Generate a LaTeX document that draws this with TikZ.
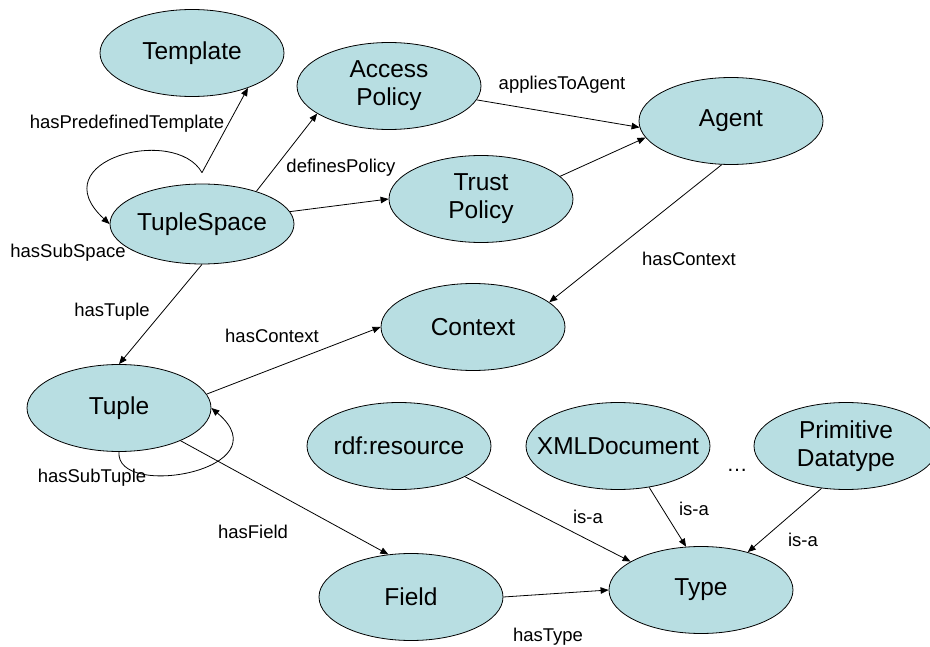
\documentclass[tikz,border=0pt]{standalone}
\usepackage{fontspec}
\setmainfont{Liberation Sans}
\usetikzlibrary{shapes.geometric,arrows.meta}
\definecolor{nodefill}{RGB}{184,222,226}
\begin{document}
\begin{tikzpicture}[x=1pt,y=-1pt,
  cls/.style={ellipse,draw=black,line width=0.8pt,fill=nodefill,inner sep=0pt,
    inner xsep=-22pt,
    minimum width=184pt,minimum height=87pt,align=center,
    font=\fontsize{24.5}{28}\selectfont},
  lbl/.style={inner sep=0pt,font=\fontsize{18.5}{21}\selectfont},
  arr/.style={line width=0.8pt,-{Triangle[length=8pt,width=6.5pt]}}]
\useasboundingbox (0,0) rectangle (930,647);
% nodes
\node[cls] (template) at (192,53) {Template};
\node[cls] (access) at (389,86) {Access\\Policy};
\node[cls] (trust) at (481,199) {Trust\\Policy};
\node[cls] (agent) at (731,121) {Agent};
\node[cls,minimum height=80pt] (tuplespace) at (202,224) {TupleSpace};
\node[cls] (context) at (473,327) {Context};
\node[cls] (tuple) at (119,408) {Tuple};
\node[cls] (rdf) at (399,446) {rdf:resource};
\node[cls] (xml) at (618,446) {XMLDocument};
\node[cls] (prim) at (846,446) {Primitive\\Datatype};
\node[cls] (field) at (411,597) {Field};
\node[cls] (type) at (701,590) {Type};
% labels
\node[lbl] (lpre) at (127,124) {hasPredefinedTemplate};
\node[lbl] (lsub) at (68,253) {hasSubSpace};
\node[lbl] (ldef) at (341,168) {definesPolicy};
\node[lbl] (lapp) at (562,85) {appliesToAgent};
\node[lbl] (lctxa) at (689,259) {hasContext};
\node[lbl] (ltup) at (112,312) {hasTuple};
\node[lbl] (lctxt) at (272,336) {hasContext};
\node[lbl] (lsubt) at (92,478) {hasSubTuple};
\node[lbl] (lfld) at (253,532) {hasField};
\node[lbl] (ltyp) at (548,637) {hasType};
\node[lbl] (lisa1) at (588,517) {is-a};
\node[lbl] (lisa2) at (694,509) {is-a};
\node[lbl] (lisa3) at (803,540) {is-a};
\node[lbl,font=\fontsize{21}{21}\selectfont] (dots) at (737,470) {\dots};
% connectors
\coordinate (tsjoin) at ([yshift=11pt]tuplespace.north);
\draw[arr] (tsjoin) -- (template.-32);
\draw[arr] (tsjoin) .. controls (175,125) and (40,160) .. (tuplespace.west);
\draw[arr] (tuplespace.31) -- (access.201);
\draw[arr] (tuplespace.8) -- (trust.west);
\draw[arr] (access.-9) -- (agent.184);
\draw[arr] (trust.16) -- (agent.191);
\draw[arr] (agent.258) -- (context.18);
\draw[arr] (tuplespace.south) -- (tuple.north);
\draw[arr] (tuple.9) -- (context.west);
\draw[arr] (tuple.south) .. controls (115,500) and (285,470) .. (tuple.east);
\draw[arr] (tuple.-28) -- (field.118);
\draw[arr] (field.east) -- (type.west);
\draw[arr] (rdf.-25) -- (type.158);
\draw[arr] (xml.-53) -- (type.109);
\draw[arr] (prim.240) -- (type.39);
\end{tikzpicture}
\end{document}
